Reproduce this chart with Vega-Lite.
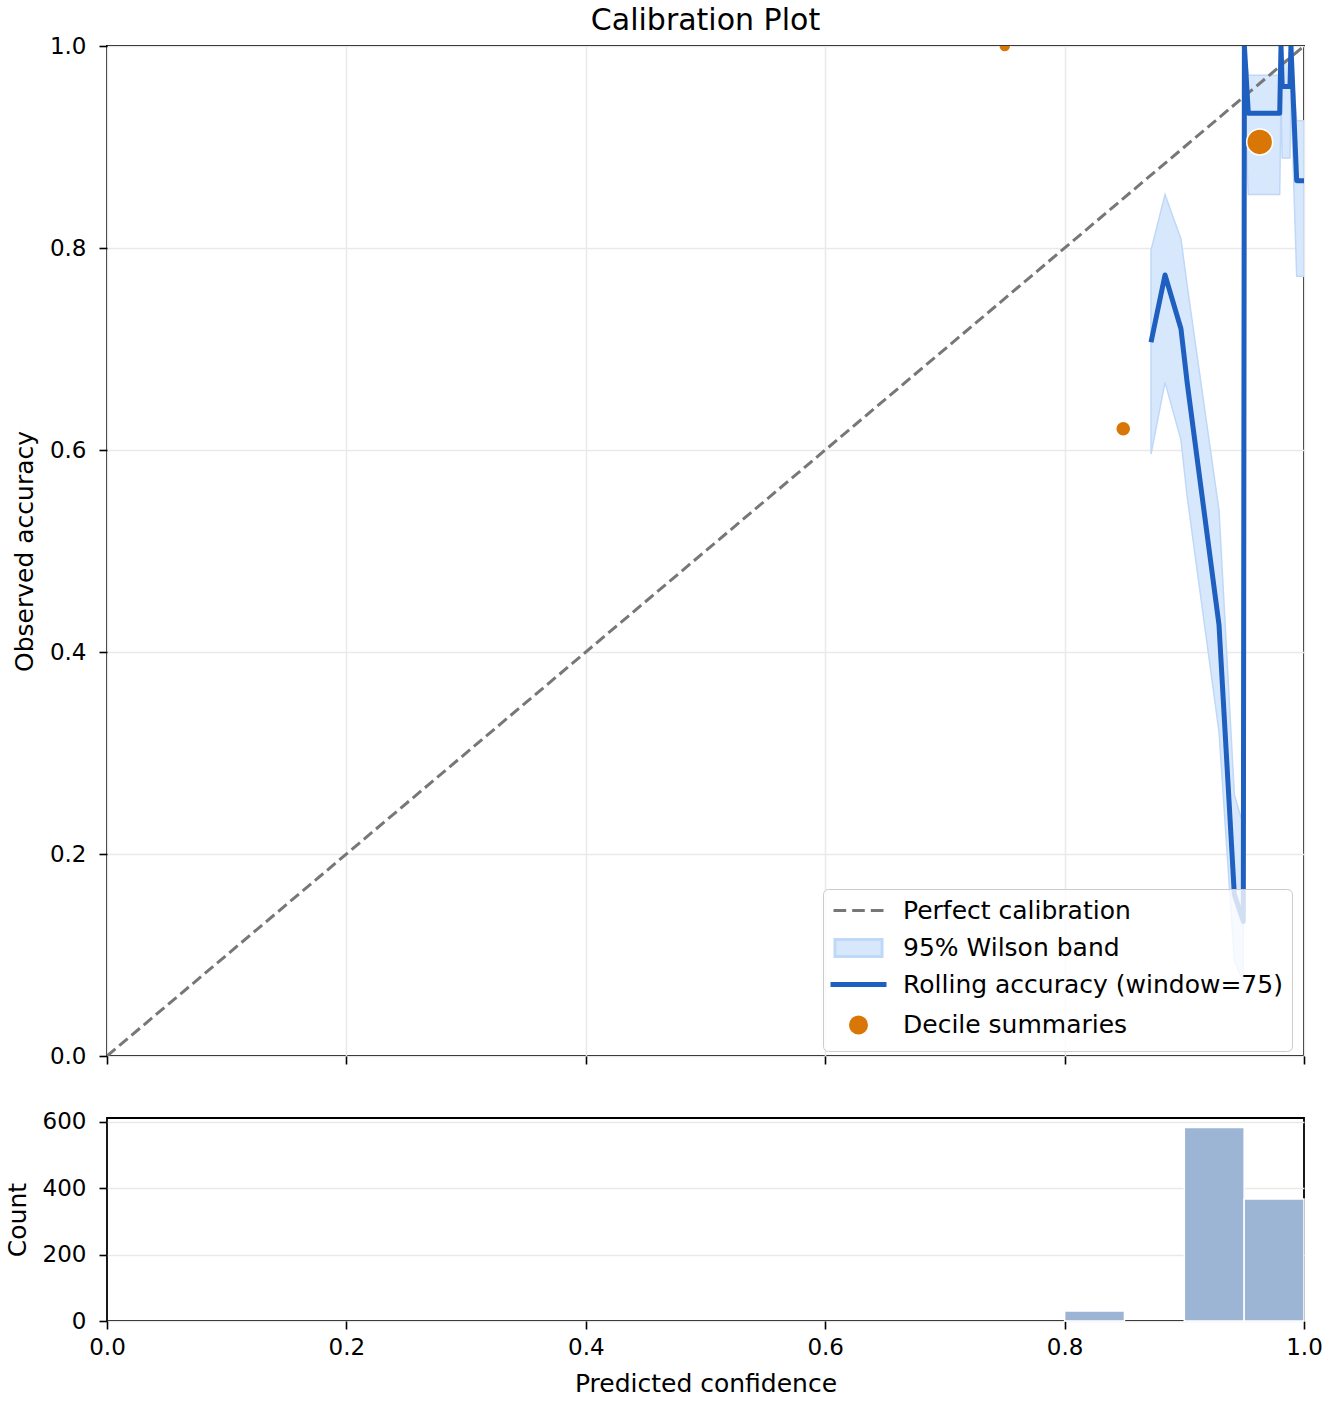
{
  "$schema": "https://vega.github.io/schema/vega-lite/v6.json",
  "background": "white",
  "padding": {"left": 4, "top": 5, "right": 5, "bottom": 5},
  "config": {
    "font": "DejaVu Sans",
    "view": {"stroke": "black", "strokeWidth": 1.8},
    "axis": {
      "domain": false,
      "tickColor": "black",
      "tickWidth": 1.6,
      "tickSize": 8,
      "labelFontSize": 23,
      "labelColor": "black",
      "labelFlush": false,
      "titleFontSize": 25,
      "titleFontWeight": "normal",
      "titleColor": "black",
      "titlePadding": 12,
      "gridColor": "#e9e9e9",
      "gridWidth": 1.5
    },
    "axisX": {"labelPadding": 7},
    "axisY": {"labelPadding": 13}
  },
  "spacing": 62,
  "bounds": "flush",
  "vconcat": [
    {
      "width": 1197,
      "height": 1010,
      "title": {
        "text": "Calibration Plot",
        "fontSize": 30,
        "fontWeight": "normal",
        "color": "black",
        "anchor": "middle",
        "frame": "group",
        "offset": -1
      },
      "layer": [
        {
          "data": {
            "values": [
              {"conf": 0.8722, "lower": 0.596, "upper": 0.798},
              {"conf": 0.8839, "lower": 0.667, "upper": 0.853},
              {"conf": 0.8972, "lower": 0.610, "upper": 0.809},
              {"conf": 0.9024, "lower": 0.554, "upper": 0.763},
              {"conf": 0.9290, "lower": 0.321, "upper": 0.540},
              {"conf": 0.9418, "lower": 0.094, "upper": 0.259},
              {"conf": 0.9493, "lower": 0.074, "upper": 0.228},
              {"conf": 0.9502, "lower": 0.951, "upper": 1.0},
              {"conf": 0.9535, "lower": 0.853, "upper": 0.971},
              {"conf": 0.9797, "lower": 0.853, "upper": 0.971},
              {"conf": 0.9808, "lower": 0.951, "upper": 1.0},
              {"conf": 0.9818, "lower": 0.889, "upper": 0.986},
              {"conf": 0.9883, "lower": 0.889, "upper": 0.986},
              {"conf": 0.9891, "lower": 0.951, "upper": 1.0},
              {"conf": 0.9939, "lower": 0.772, "upper": 0.926},
              {"conf": 1.0, "lower": 0.772, "upper": 0.926}
            ]
          },
          "mark": {"type": "area", "fill": "#d8e8fc", "stroke": "#bfd8f8", "strokeWidth": 1.5, "clip": true},
          "encoding": {
            "x": {
              "field": "conf",
              "type": "quantitative",
              "scale": {"domain": [0, 1], "nice": false},
              "axis": {"values": [0, 0.2, 0.4, 0.6, 0.8, 1], "labels": false, "title": null, "grid": true}
            },
            "y": {
              "field": "lower",
              "type": "quantitative",
              "scale": {"domain": [0, 1], "nice": false},
              "axis": {"values": [0, 0.2, 0.4, 0.6, 0.8, 1], "format": ".1f", "title": "Observed accuracy", "grid": true}
            },
            "y2": {"field": "upper"}
          }
        },
        {
          "data": {
            "values": [
              {"conf": 0, "acc": 0},
              {"conf": 1, "acc": 1}
            ]
          },
          "mark": {"type": "line", "color": "#777777", "strokeDash": [11, 5], "strokeWidth": 3, "clip": true},
          "encoding": {
            "x": {"field": "conf", "type": "quantitative"},
            "y": {"field": "acc", "type": "quantitative"}
          }
        },
        {
          "data": {
            "values": [
              {"conf": 0.8722, "acc": 0.7067},
              {"conf": 0.8839, "acc": 0.7733},
              {"conf": 0.8972, "acc": 0.7200},
              {"conf": 0.9024, "acc": 0.6667},
              {"conf": 0.9290, "acc": 0.4267},
              {"conf": 0.9418, "acc": 0.1600},
              {"conf": 0.9493, "acc": 0.1333},
              {"conf": 0.9502, "acc": 1.0},
              {"conf": 0.9535, "acc": 0.9333},
              {"conf": 0.9797, "acc": 0.9333},
              {"conf": 0.9808, "acc": 1.0},
              {"conf": 0.9818, "acc": 0.9600},
              {"conf": 0.9883, "acc": 0.9600},
              {"conf": 0.9891, "acc": 1.0},
              {"conf": 0.9939, "acc": 0.8667},
              {"conf": 1.0, "acc": 0.8667}
            ]
          },
          "mark": {"type": "line", "color": "#1f5fbf", "strokeWidth": 5, "strokeJoin": "round", "clip": true},
          "encoding": {
            "x": {"field": "conf", "type": "quantitative"},
            "y": {"field": "acc", "type": "quantitative"}
          }
        },
        {
          "data": {
            "values": [
              {"conf": 0.750, "acc": 1.0, "n": 2, "series": "Decile summaries"},
              {"conf": 0.849, "acc": 0.621, "n": 37, "series": "Decile summaries"},
              {"conf": 0.963, "acc": 0.905, "n": 961, "series": "Decile summaries"}
            ]
          },
          "mark": {"type": "point", "opacity": 1, "strokeWidth": 1.5, "clip": true},
          "encoding": {
            "x": {"field": "conf", "type": "quantitative"},
            "y": {"field": "acc", "type": "quantitative"},
            "size": {
              "field": "n",
              "type": "quantitative",
              "scale": {"type": "sqrt", "domain": [0, 1000], "range": [98, 567]},
              "legend": null
            },
            "fill": {
              "field": "series",
              "type": "nominal",
              "scale": {
                "domain": ["Perfect calibration", "95% Wilson band", "Rolling accuracy (window=75)", "Decile summaries"],
                "range": ["transparent", "#d8e8fc", "#1f5fbf", "#d97706"]
              },
              "legend": {
                "title": null,
                "orient": "none",
                "legendX": 716,
                "legendY": 843,
                "labelFontSize": 25,
                "labelColor": "black",
                "labelLimit": 600,
                "symbolSize": 400,
                "symbolStrokeWidth": 3,
                "symbolFillColor": "transparent",
                "symbolOpacity": 1,
                "symbolOffset": 14,
                "labelOffset": 32,
                "rowPadding": 9.5,
                "padding": 9,
                "fillColor": "rgba(255,255,255,0.8)",
                "strokeColor": "#cccccc",
                "cornerRadius": 5
              }
            },
            "stroke": {
              "field": "series",
              "type": "nominal",
              "scale": {
                "domain": ["Perfect calibration", "95% Wilson band", "Rolling accuracy (window=75)", "Decile summaries"],
                "range": ["#777777", "#bfd8f8", "#1f5fbf", "white"]
              }
            },
            "shape": {
              "field": "series",
              "type": "nominal",
              "scale": {
                "domain": ["Perfect calibration", "95% Wilson band", "Rolling accuracy (window=75)", "Decile summaries"],
                "range": [
                  "M-2.5,0H-1.23M-0.63,0H0.63M1.23,0H2.5",
                  "M-2.35,-0.85H2.35V0.85H-2.35Z",
                  "M-2.65,-0.1H2.65V0.1H-2.65Z",
                  "M1.1,0A1.1,1.1,0,1,1,-1.1,0A1.1,1.1,0,1,1,1.1,0Z"
                ]
              }
            }
          }
        }
      ]
    },
    {
      "width": 1197,
      "height": 203,
      "data": {
        "values": [
          {"bin_start": 0.80, "bin_end": 0.85, "count": 30},
          {"bin_start": 0.90, "bin_end": 0.95, "count": 583},
          {"bin_start": 0.95, "bin_end": 1.00, "count": 368}
        ]
      },
      "mark": {"type": "bar", "fill": "#9db5d4", "stroke": "white", "strokeWidth": 1.5},
      "encoding": {
        "x": {
          "field": "bin_start",
          "type": "quantitative",
          "scale": {"domain": [0, 1], "nice": false},
          "axis": {"values": [0, 0.2, 0.4, 0.6, 0.8, 1], "format": ".1f", "title": "Predicted confidence", "grid": false}
        },
        "x2": {"field": "bin_end"},
        "y": {
          "field": "count",
          "type": "quantitative",
          "scale": {"domain": [0, 612], "nice": false},
          "axis": {"values": [0, 200, 400, 600], "title": "Count", "grid": true}
        },
        "y2": {"datum": 0}
      }
    }
  ]
}
